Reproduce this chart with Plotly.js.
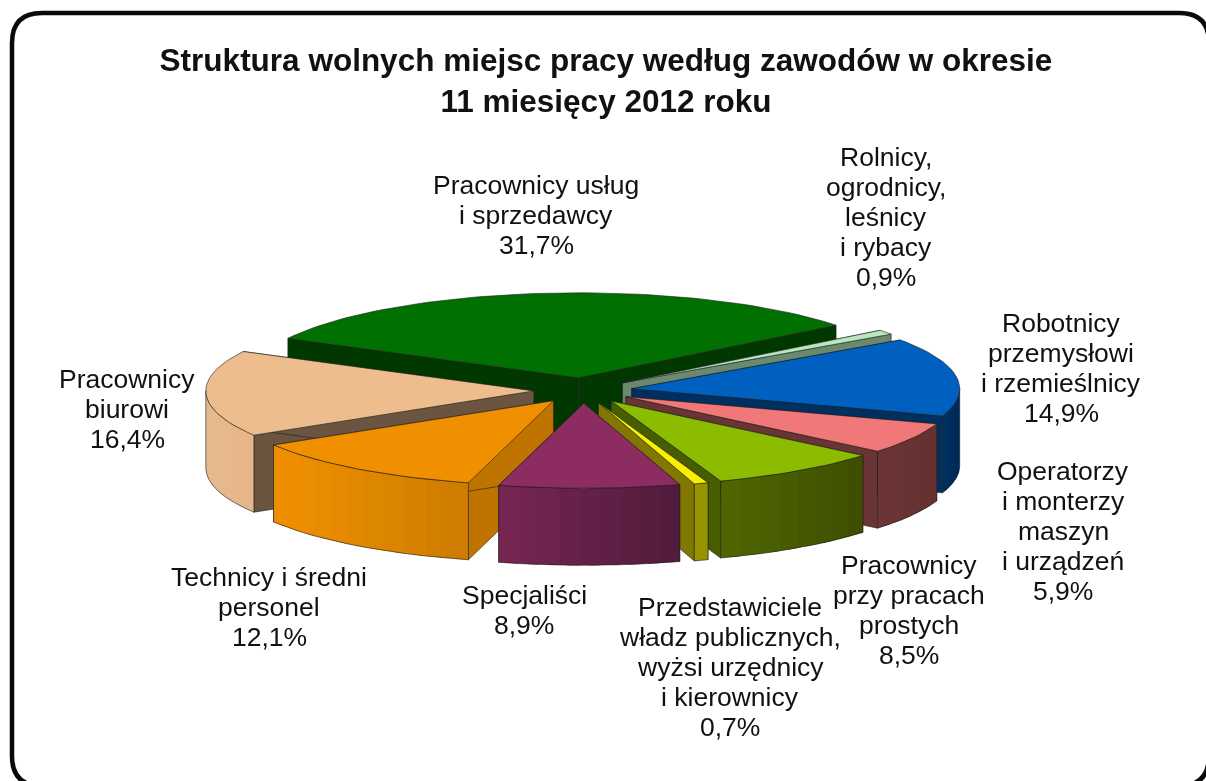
<!DOCTYPE html>
<html><head><meta charset="utf-8">
<script src="https://cdn.plot.ly/plotly-3.0.1.min.js"></script>
<style>html,body{margin:0;padding:0;background:#fff;overflow:hidden}#g{width:1206px;height:781px;filter:blur(0.55px)}</style>
</head><body><div id="g"></div>
<script>
const categories = ["Robotnicy przemysłowi i rzemieślnicy","Operatorzy i monterzy maszyn i urządzeń","Pracownicy przy pracach prostych","Przedstawiciele władz publicznych, wyżsi urzędnicy i kierownicy","Specjaliści","Technicy i średni personel","Pracownicy biurowi","Pracownicy usług i sprzedawcy","Rolnicy, ogrodnicy, leśnicy i rybacy"];
const values = [14.9,5.9,8.5,0.7,8.9,12.1,16.4,31.7,0.9];
const labelLines = [
 ["Robotnicy","przemysłowi","i rzemieślnicy","14,9%"],
 ["Operatorzy","i monterzy","maszyn","i urządzeń","5,9%"],
 ["Pracownicy","przy pracach","prostych","8,5%"],
 ["Przedstawiciele","władz publicznych,","wyżsi urzędnicy","i kierownicy","0,7%"],
 ["Specjaliści","8,9%"],
 ["Technicy i średni","personel","12,1%"],
 ["Pracownicy","biurowi","16,4%"],
 ["Pracownicy usług","i sprzedawcy","31,7%"],
 ["Rolnicy,","ogrodnicy,","leśnicy","i rybacy","0,9%"]];
const labelX = [1061,1063,909,730,524,269,127,536,886];
const labelY = [368,531,610,667,610,607,409,215,217];
const topColors  = ["#0060C0","#F07878","#8CBC00","#F8F000","#8C2C60","#F09000","#EDBD8E","#007000","#B8E8C0"];
const wallColors = ["#003060","#683434","#465E00","#807800","#6A2048","#C07400","#6B5540","#003800","#6A8A70"];
const rimLeft    = ["#003060","#6C3636","#506800","#989400","#782652","#F09000","#E6BA90","#004000","#6A8A70"];
const rimRight   = ["#00285A","#643030","#3E4E00","#989400","#501C3C","#CC7C00","#E6B688","#003000","#6A8A70"];
const paintOrder = [7,8,6,0,5,1,2,3,4];

const W=1206,H=781,CX=583,CY=390.5,RX=328,RY=85,PULL=0.15,DEPTH=0.906,START=55,LINE=30;
const rad=d=>d*Math.PI/180;
const total=values.reduce((a,b)=>a+b,0);
let acc=START; const spans=values.map(v=>{const s=[acc,acc+v/total*360];acc=s[1];return s;});
function pt(a,mid,z){return [Math.sin(rad(a))+PULL*Math.sin(rad(mid)),Math.cos(rad(a))+PULL*Math.cos(rad(mid))-z*DEPTH];}
function hex(c){return [1,3,5].map(i=>parseInt(c.substr(i,2),16));}
function mix(a,b,t){const A=hex(a),B=hex(b);return "rgb("+A.map((v,i)=>Math.round(v+(B[i]-v)*t)).join(",")+")";}
function poly(pts,fill,line,name,w){
 return {type:"scatter",mode:"lines",x:pts.map(p=>p[0]),y:pts.map(p=>p[1]),fill:"toself",fillcolor:fill,
  line:{color:line,width:w===undefined?0.8:w},name:name||"",hoverinfo:name?"name":"skip",showlegend:false};
}
const EDGE="rgba(30,30,30,0.75)";
const traces=[];
paintOrder.forEach(i=>{
 const [a0,a1]=spans[i],mid=(a0+a1)/2;
 const ap=[PULL*Math.sin(rad(mid)),PULL*Math.cos(rad(mid))];
 const apB=[ap[0],ap[1]-DEPTH];
 traces.push(poly([ap,pt(a0,mid,0),pt(a0,mid,1),apB,ap],wallColors[i],EDGE));
 traces.push(poly([ap,pt(a1,mid,0),pt(a1,mid,1),apB,ap],wallColors[i],EDGE));
 // the rim faces the viewer only on the front half of the ellipse
 const f0=Math.max(a0,90),f1=Math.min(a1,270);
 if(f1>f0){
  const n=Math.max(1,Math.ceil((f1-f0)/4));
  const arcF=(z,rev)=>{const o=[];for(let k=0;k<=n;k++){o.push(pt(f0+(f1-f0)*k/n,mid,z));}return rev?o.reverse():o;};
  const xs=arcF(0).map(p=>p[0]),minX=Math.min(...xs),maxX=Math.max(...xs);
  const step=(f1-f0)/n;
  // painted from one end to the other, each band running under the next, so no seam shows
  for(let k=0;k<n;k++){
   const b0=f0+step*k,b1=k===n-1?f1:f0+step*(k+1.6);
   const xm=(pt(f0+step*k,mid,0)[0]+pt(f0+step*(k+1),mid,0)[0])/2;
   const c=mix(rimRight[i],rimLeft[i],(maxX-xm)/Math.max(1e-6,maxX-minX));
   const q=[];
   for(let j=0;j<=4;j++)q.push(pt(b0+(b1-b0)*j/4,mid,0));
   for(let j=4;j>=0;j--)q.push(pt(b0+(b1-b0)*j/4,mid,1));
   q.push(q[0]);
   traces.push({type:"scatter",mode:"none",x:q.map(p=>p[0]),y:q.map(p=>p[1]),fill:"toself",fillcolor:c,hoverinfo:"skip",showlegend:false});
  }
  const rim=arcF(0).concat(arcF(1,true));rim.push(rim[0]);
  traces.push({type:"scatter",mode:"lines",x:rim.map(p=>p[0]),y:rim.map(p=>p[1]),line:{color:EDGE,width:0.8},hoverinfo:"skip",showlegend:false});
 }
 const m=Math.max(2,Math.ceil((a1-a0)/2));
 const top=[ap];for(let k=0;k<=m;k++){top.push(pt(a0+(a1-a0)*k/m,mid,0));}top.push(ap);
 traces.push(poly(top,topColors[i],EDGE,categories[i]+": "+String(values[i]).replace(".",",")+"%"));
});
const px=x=>x/W, py=y=>1-y/H;
const L=12,T=13,R=1209,B=786,r=30;
const border="M "+px(L)+" "+py(T+r)+" Q "+px(L)+" "+py(T)+" "+px(L+r)+" "+py(T)+
 " L "+px(R-r)+" "+py(T)+" Q "+px(R)+" "+py(T)+" "+px(R)+" "+py(T+r)+
 " L "+px(R)+" "+py(B-r)+" Q "+px(R)+" "+py(B)+" "+px(R-r)+" "+py(B)+
 " L "+px(L+r)+" "+py(B)+" Q "+px(L)+" "+py(B)+" "+px(L)+" "+py(B-r)+" Z";
const font={family:"Liberation Sans, Arial, sans-serif",color:"#111"};
const annotations=[];
labelLines.forEach((lines,i)=>lines.forEach((t,k)=>annotations.push({text:t,xref:"paper",yref:"paper",
 x:px(labelX[i]),y:py(labelY[i]+(k-(lines.length-1)/2)*LINE),
 xanchor:"center",yanchor:"middle",align:"center",showarrow:false,font:{...font,size:26.5}})));
const layout={width:W,height:H,margin:{l:0,r:0,t:0,b:0},paper_bgcolor:"#fff",plot_bgcolor:"rgba(0,0,0,0)",showlegend:false,hovermode:"closest",
 title:{text:"<b>Struktura wolnych miejsc pracy według zawodów w okresie<br>11 miesięcy 2012 roku</b>",x:px(606),y:py(71),xanchor:"center",yanchor:"middle",font:{...font,size:31.5}},
 xaxis:{range:[-CX/RX,(W-CX)/RX],visible:false,fixedrange:true},
 yaxis:{range:[(CY-H)/RY,CY/RY],visible:false,fixedrange:true},
 shapes:[{type:"path",xref:"paper",yref:"paper",path:border,line:{color:"#0a0a0a",width:4.5},layer:"below"}],
 annotations};
Plotly.newPlot("g",traces,layout,{displayModeBar:false,responsive:false});
</script></body></html>
